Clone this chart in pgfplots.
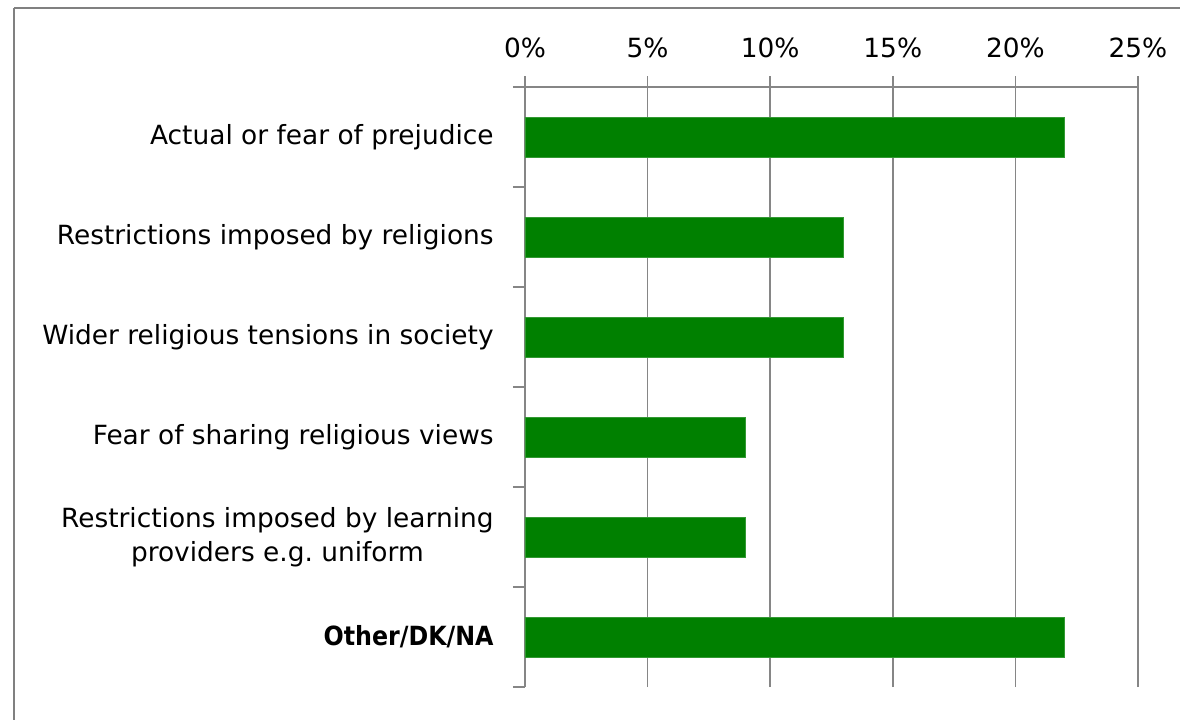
\documentclass[border=0pt]{standalone}
\usepackage{pgfplots}
\pgfplotsset{compat=1.18}
\usepackage{fontspec}
\setmainfont{DejaVu Sans}
\newfontfamily\condfont{DejaVu Sans Condensed}
\definecolor{bargreen}{RGB}{0,128,0}
\definecolor{gridgray}{RGB}{134,134,134}
\definecolor{framegray}{RGB}{128,128,128}
\begin{document}
\frenchspacing
\begin{tikzpicture}
\fontsize{13.2pt}{16pt}\selectfont
\useasboundingbox (0pt,0pt) rectangle (590pt,-359.5pt);
\draw[framegray, line width=1.4pt] (7pt,-4pt) -- (600pt,-4pt);
\draw[framegray, line width=1.4pt] (7pt,-4pt) -- (7pt,-370pt);
\begin{axis}[
  at={(262.5pt,-343.5pt)}, anchor=south west,
  scale only axis, width=306.5pt, height=300pt,
  xmin=0, xmax=25, ymin=-0.5, ymax=5.5,
  xbar, bar width=20pt,
  axis x line*=top, axis y line*=left,
  axis line style={gridgray, line width=0.75pt, -},
  xtick={0,5,10,15,20,25},
  xticklabels={0\%,5\%,10\%,15\%,20\%,25\%},
  xmajorgrids, grid style={gridgray, line width=0.75pt},
  tick align=outside,
  major tick length=5.5pt, minor tick length=6pt,
  every tick/.style={gridgray, line width=0.75pt},
  ytick={0,1,2,3,4,5},
  minor ytick={-0.5,0.5,1.5,2.5,3.5,4.5,5.5},
  major y tick style={draw=none},
  yticklabels={{\condfont\bfseries Other/DK/NA},{Restrictions imposed by learning\\providers e.g. uniform},Fear of sharing religious views,Wider religious tensions in society,Restrictions imposed by religions,Actual or fear of prejudice},
  yticklabel style={align=center, anchor=east, inner sep=0pt, xshift=-10pt, font=\fontsize{13.2pt}{17pt}\selectfont},
  xticklabel style={inner sep=0pt, yshift=9pt, font=\fontsize{13.2pt}{16pt}\selectfont},
]
\addplot[fill=bargreen, draw=bargreen!80!white, bar shift=0pt] coordinates {
(22,5) (13,4) (13,3) (9,2) (9,1) (22,0)
};
\end{axis}
\end{tikzpicture}
\end{document}
